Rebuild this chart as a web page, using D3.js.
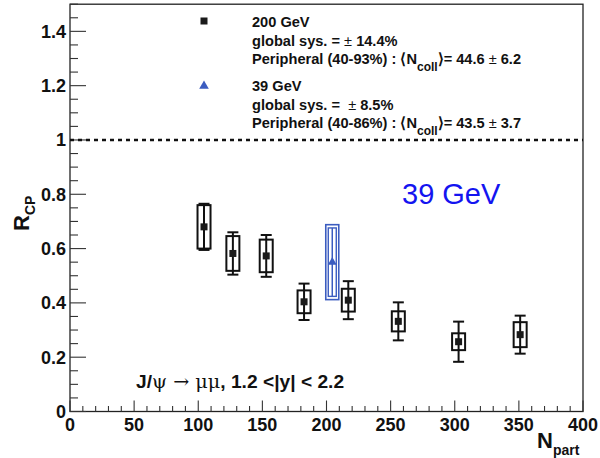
<!DOCTYPE html>
<html>
<head>
<meta charset="utf-8">
<script src="https://cdn.jsdelivr.net/npm/d3@7"></script>
<style>
  html, body { margin: 0; padding: 0; background: #fff; }
  svg { display: block; font-family: "Liberation Sans", Arial, Helvetica, sans-serif; }
</style>
</head>
<body>
<svg id="chart" width="600" height="458"></svg>
<script>
// J/psi R_CP versus N_part, forward rapidity

// 200 GeV points
const npart200 = [104.5, 127, 153, 182.5, 217, 256, 303, 351];
const rcp200   = [0.680, 0.582, 0.573, 0.404, 0.410, 0.332, 0.257, 0.283];
const stat200  = [0.085, 0.078, 0.077, 0.067, 0.070, 0.070, 0.074, 0.070];
const sys200   = [0.080, 0.064, 0.060, 0.042, 0.042, 0.037, 0.031, 0.046];

// 39 GeV point
const npart39 = [204.5];
const rcp39   = [0.550];
const stat39  = [0.126];
const sys39   = [0.138];

// axis ticks
const xMajor = [0, 50, 100, 150, 200, 250, 300, 350, 400];
const yMajor = [0, 0.2, 0.4, 0.6, 0.8, 1, 1.2, 1.4];

const svg = d3.select("#chart");
const x = d3.scaleLinear().domain([0, 400]).range([70, 583]);
const y = d3.scaleLinear().domain([0, 1.5]).range([411.5, 4.2]);

const black = "#111";
const blue = "#3b5cc0";

// frame
svg.append("rect")
  .attr("x", x(0)).attr("y", y(1.5))
  .attr("width", x(400) - x(0)).attr("height", y(0) - y(1.5))
  .attr("fill", "none").attr("stroke", "#222").attr("stroke-width", 1.3);

// x ticks (inward)
const xMinor = d3.range(0, 401, 10);
svg.append("g").selectAll("line").data(xMinor).join("line")
  .attr("x1", d => x(d)).attr("x2", d => x(d))
  .attr("y1", y(0)).attr("y2", d => y(0) - (d % 50 === 0 ? 11 : 5.5))
  .attr("stroke", "#333").attr("stroke-width", 1.1);

// y ticks (inward)
const yMinor = d3.range(0, 1.5001, 0.05);
svg.append("g").selectAll("line").data(yMinor).join("line")
  .attr("x1", x(0)).attr("x2", d => x(0) + (Math.abs(d / 0.2 - Math.round(d / 0.2)) < 1e-6 ? 16 : 8))
  .attr("y1", d => y(d)).attr("y2", d => y(d))
  .attr("stroke", "#333").attr("stroke-width", 1.1);

// tick labels
svg.append("g").selectAll("text").data(xMajor).join("text")
  .attr("x", d => x(d)).attr("y", 431)
  .attr("text-anchor", "middle")
  .attr("font-size", 18).attr("font-weight", "bold").attr("fill", black)
  .text(d => d);

svg.append("g").selectAll("text").data(yMajor).join("text")
  .attr("x", 66).attr("y", d => y(d)).attr("dy", "0.36em")
  .attr("text-anchor", "end")
  .attr("font-size", 18).attr("font-weight", "bold").attr("fill", black)
  .text(d => d3.format("~g")(d));

// axis titles
const xt = svg.append("text").attr("x", 537).attr("y", 448)
  .attr("font-weight", "bold").attr("fill", black);
xt.append("tspan").attr("font-size", 22).text("N");
xt.append("tspan").attr("font-size", 14).attr("dy", 7).text("part");

const yt = svg.append("text")
  .attr("transform", "translate(28.5,231) rotate(-90)")
  .attr("font-weight", "bold").attr("fill", black);
yt.append("tspan").attr("font-size", 22).text("R");
yt.append("tspan").attr("font-size", 14).attr("dy", 6).text("CP");

// reference line at unity
svg.append("line")
  .attr("x1", x(0)).attr("x2", x(400))
  .attr("y1", y(1)).attr("y2", y(1))
  .attr("stroke", black).attr("stroke-width", 2.5)
  .attr("stroke-dasharray", "4,4");

// 200 GeV: systematic boxes, statistical bars, markers
const pts200 = npart200.map((n, i) => ({ n, r: rcp200[i], st: stat200[i], sy: sys200[i] }));
const g200 = svg.append("g");
g200.selectAll("rect.sys").data(pts200).join("rect").attr("class", "sys")
  .attr("x", d => x(d.n) - 6.5).attr("width", 13)
  .attr("y", d => y(d.r + d.sy)).attr("height", d => y(d.r - d.sy) - y(d.r + d.sy))
  .attr("fill", "none").attr("stroke", black).attr("stroke-width", 2);
g200.selectAll("line.stat").data(pts200).join("line").attr("class", "stat")
  .attr("x1", d => x(d.n)).attr("x2", d => x(d.n))
  .attr("y1", d => y(d.r + d.st)).attr("y2", d => y(d.r - d.st))
  .attr("stroke", black).attr("stroke-width", 2);
g200.selectAll("line.capHi").data(pts200).join("line").attr("class", "capHi")
  .attr("x1", d => x(d.n) - 5.5).attr("x2", d => x(d.n) + 5.5)
  .attr("y1", d => y(d.r + d.st)).attr("y2", d => y(d.r + d.st))
  .attr("stroke", black).attr("stroke-width", 2);
g200.selectAll("line.capLo").data(pts200).join("line").attr("class", "capLo")
  .attr("x1", d => x(d.n) - 5.5).attr("x2", d => x(d.n) + 5.5)
  .attr("y1", d => y(d.r - d.st)).attr("y2", d => y(d.r - d.st))
  .attr("stroke", black).attr("stroke-width", 2);
g200.selectAll("rect.mk").data(pts200).join("rect").attr("class", "mk")
  .attr("x", d => x(d.n) - 3.5).attr("y", d => y(d.r) - 3.5)
  .attr("width", 7).attr("height", 7).attr("fill", "#1a1a1a");

// 39 GeV
const pts39 = npart39.map((n, i) => ({ n, r: rcp39[i], st: stat39[i], sy: sys39[i] }));
const g39 = svg.append("g");
g39.selectAll("rect.sys").data(pts39).join("rect").attr("class", "sys")
  .attr("x", d => x(d.n) - 6.5).attr("width", 13)
  .attr("y", d => y(d.r + d.sy)).attr("height", d => y(d.r - d.sy) - y(d.r + d.sy))
  .attr("fill", "none").attr("stroke", blue).attr("stroke-width", 1.6);
g39.selectAll("rect.stat").data(pts39).join("rect").attr("class", "stat")
  .attr("x", d => x(d.n) - 4).attr("width", 8)
  .attr("y", d => y(d.r + d.st)).attr("height", d => y(d.r - d.st) - y(d.r + d.st))
  .attr("fill", "none").attr("stroke", blue).attr("stroke-width", 1.4);
g39.selectAll("line.stat").data(pts39).join("line").attr("class", "stat")
  .attr("x1", d => x(d.n)).attr("x2", d => x(d.n))
  .attr("y1", d => y(d.r + d.st)).attr("y2", d => y(d.r - d.st))
  .attr("stroke", blue).attr("stroke-width", 1.5);
const tri = d3.symbol().type(d3.symbolTriangle).size(34);
g39.selectAll("path.mk").data(pts39).join("path").attr("class", "mk")
  .attr("transform", d => `translate(${x(d.n)},${y(d.r)})`)
  .attr("d", tri).attr("fill", blue);

// legend
svg.append("rect").attr("x", 200.5).attr("y", 17.5).attr("width", 7).attr("height", 7).attr("fill", "#1a1a1a");
svg.append("path").attr("transform", "translate(204,86)")
  .attr("d", d3.symbol().type(d3.symbolTriangle).size(40)).attr("fill", blue);

const legendLines = [
  { y: 26.7, parts: [["200 GeV", "bold"]] },
  { y: 45.7, parts: [["global sys. = ", "bold"], ["\u00b1", "normal"], [" 14.4%", "bold"]] },
  { y: 64, parts: [["Peripheral (40-93%) : \u27e8N", "bold"], ["coll", "sub"], ["\u27e9= 44.6 ", "bold"], ["\u00b1", "normal"], [" 6.2", "bold"]] },
  { y: 91, parts: [["39 GeV", "bold"]] },
  { y: 110, parts: [["global sys. =  ", "bold"], ["\u00b1", "normal"], [" 8.5%", "bold"]] },
  { y: 128, parts: [["Peripheral (40-86%) : \u27e8N", "bold"], ["coll", "sub"], ["\u27e9= 43.5 ", "bold"], ["\u00b1", "normal"], [" 3.7", "bold"]] }
];
legendLines.forEach(line => {
  const t = svg.append("text").attr("x", 252).attr("y", line.y)
    .attr("font-size", 14.6).attr("fill", black)
    .style("white-space", "pre");
  let shifted = false;
  line.parts.forEach(([s, w]) => {
    const sp = t.append("tspan").text(s);
    if (w === "sub") {
      sp.attr("font-weight", "bold").attr("font-size", 12).attr("dy", 7);
      shifted = true;
    } else {
      sp.attr("font-weight", w);
      if (shifted) { sp.attr("dy", -7); shifted = false; }
    }
  });
});

// energy label
svg.append("text").attr("x", 402).attr("y", 203.5)
  .attr("font-size", 29).attr("fill", "#1414f0").text("39 GeV");

// channel and rapidity range
const ch = svg.append("text").attr("x", 136).attr("y", 388)
  .attr("font-size", 19.2).attr("fill", black).style("white-space", "pre");
ch.append("tspan").attr("font-weight", "bold").text("J/");
ch.append("tspan").attr("font-weight", "normal").attr("font-family", "DejaVu Serif, serif").text("\u03c8 \u2192 \u03bc\u03bc");
ch.append("tspan").attr("font-weight", "bold").text(", 1.2 <|y| < 2.2");
</script>
</body>
</html>
